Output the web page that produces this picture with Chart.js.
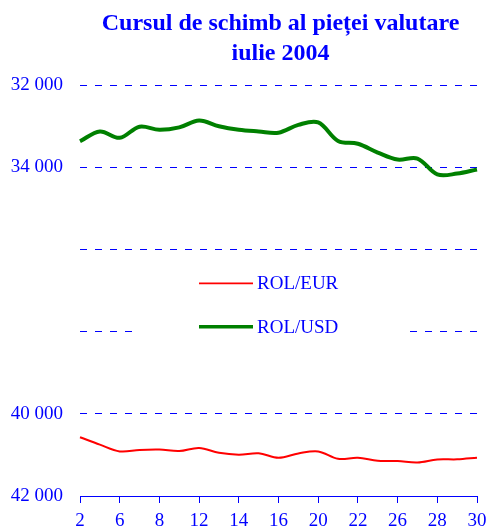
<!DOCTYPE html>
<html>
<head>
<meta charset="utf-8">
<script src="https://cdn.jsdelivr.net/npm/chart.js@4.4.1/dist/chart.umd.min.js"></script>
<style>
  html, body { margin: 0; padding: 0; background: #fff; }
  #wrap { width: 489px; height: 529px; position: relative; }
</style>
</head>
<body>
<div id="wrap"><canvas id="c"></canvas></div>
<script>
// Trading days of July 2004 (categories)
const days = [2, 5, 6, 7, 8, 9, 12, 13, 14, 15, 16, 19, 20, 21, 22, 23, 26, 27, 28, 29, 30];
// ROL/EUR exchange rate
const rolEur = [40570, 40750, 40915, 40880, 40870, 40905, 40830, 40950, 40995, 40960, 41070,
                40965, 40915, 41095, 41070, 41145, 41150, 41185, 41110, 41108, 41068];
// ROL/USD exchange rate
const rolUsd = [33370, 33130, 33285, 33015, 33090, 33030, 32865, 33005, 33090, 33130, 33160,
                32970, 32910, 33360, 33430, 33645, 33815, 33790, 34175, 34155, 34055];
// Y ticks that carry a label
const yLabelled = [32000, 34000, 40000, 42000];
const titleLines = ['Cursul de schimb al pieței valutare', 'iulie 2004'];
const seriesNames = ['ROL/EUR', 'ROL/USD'];

const BLUE = '#0000FF';
const SERIF = '"Liberation Serif", "Times New Roman", "DejaVu Serif", serif';

function fmt(v) {
  return yLabelled.includes(v) ? (Math.floor(v / 1000) + ' 000') : '';
}

const titlePlugin = {
  id: 'titleDraw',
  afterDraw(chart) {
    const { ctx, chartArea } = chart;
    const cx = (chartArea.left + chartArea.right) / 2 + 2;
    ctx.save();
    ctx.fillStyle = BLUE;
    ctx.font = 'bold 24px ' + SERIF;
    ctx.textAlign = 'center';
    ctx.textBaseline = 'alphabetic';
    ctx.fillText(titleLines[0], cx, 30);
    ctx.fillText(titleLines[1], cx, 60);
    ctx.restore();
  }
};

const legendPlugin = {
  id: 'legendBox',
  afterDatasetsDraw(chart) {
    const { ctx, chartArea } = chart;
    const L = chartArea.left;
    ctx.save();
    ctx.fillStyle = '#fff';
    ctx.fillRect(L + 56, 262, 266, 80);
    const rows = [283.3, 326.7];
    chart.data.datasets.forEach((ds, i) => {
      ctx.strokeStyle = ds.borderColor;
      ctx.lineWidth = i === 0 ? 1.8 : 3.5;
      ctx.beginPath();
      ctx.moveTo(L + 119, rows[i]);
      ctx.lineTo(L + 173, rows[i]);
      ctx.stroke();
      ctx.fillStyle = BLUE;
      ctx.font = '19px ' + SERIF;
      ctx.textAlign = 'left';
      ctx.textBaseline = 'middle';
      ctx.fillText(ds.label, L + 177, rows[i] + 1);
    });
    ctx.restore();
  }
};

new Chart(document.getElementById('c'), {
  type: 'line',
  data: {
    labels: days,
    datasets: [
      { label: seriesNames[0], data: rolEur, borderColor: '#FF0000', borderWidth: 2,
        pointRadius: 0, tension: 0.35, fill: false },
      { label: seriesNames[1], data: rolUsd, borderColor: '#008000', borderWidth: 4,
        pointRadius: 0, tension: 0.35, fill: false }
    ]
  },
  options: {
    responsive: true,
    maintainAspectRatio: false,
    animation: false,
    layout: { padding: { top: 85, left: 11, right: 12, bottom: 0 } },
    plugins: { legend: { display: false }, title: { display: false }, tooltip: { enabled: false } },
    scales: {
      x: {
        type: 'category',
        afterFit: (s) => { s.height = 33; s.paddingRight = 0; s.paddingLeft = 0; },
        grid: {
          drawOnChartArea: false,
          drawTicks: true,
          tickLength: 7,
          tickColor: (c) => (c.index % 2 === 0 ? BLUE : 'rgba(0,0,0,0)')
        },
        border: { display: true, color: BLUE, width: 1 },
        ticks: {
          color: BLUE,
          font: { family: SERIF, size: 19, lineHeight: 1 },
          autoSkip: false,
          maxRotation: 0,
          padding: 9,
          callback: function (val, idx) { return idx % 2 === 0 ? this.getLabelForValue(val) : ''; }
        }
      },
      y: {
        reverse: true,
        min: 32000,
        max: 42000,
        afterFit: (s) => { s.width = 69; },
        ticks: {
          stepSize: 2000,
          color: BLUE,
          font: { family: SERIF, size: 19 },
          padding: 17,
          callback: (v) => fmt(v)
        },
        grid: {
          drawTicks: false,
          color: BLUE,
          lineWidth: 1
        },
        border: { display: false, dash: [7, 8] }
      }
    }
  },
  plugins: [titlePlugin, legendPlugin]
});
</script>
</body>
</html>
